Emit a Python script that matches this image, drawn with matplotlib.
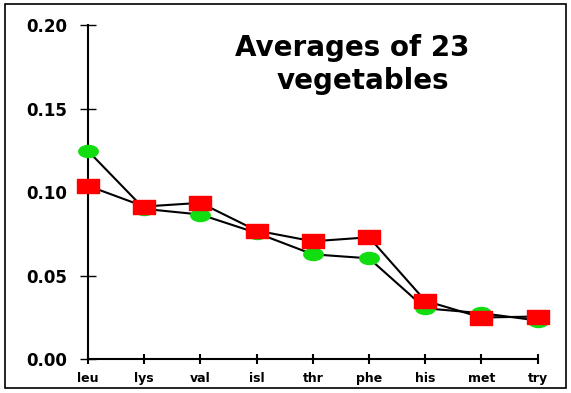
import numpy as np
import matplotlib
matplotlib.use('Agg')
import matplotlib.pyplot as plt
from matplotlib.path import Path
from matplotlib.patches import Rectangle

# amino acids along the x axis
amino = ['leu', 'lys', 'val', 'isl', 'thr', 'phe', 'his', 'met', 'try']
green_vals = [0.1247, 0.0900, 0.0866, 0.0756, 0.0628, 0.0604, 0.0305, 0.0276, 0.0232]
red_vals = [0.1038, 0.0914, 0.0936, 0.0770, 0.0706, 0.0730, 0.0350, 0.0250, 0.0256]
yticks = [0.00, 0.05, 0.10, 0.15, 0.20]

plt.rcParams['font.family'] = 'DejaVu Sans'
plt.rcParams['font.weight'] = 'bold'

fig = plt.figure(figsize=(5.71, 3.93), dpi=100)
ax = fig.add_axes([88/571, 1 - 359.3/393, 449.7/571, 334.3/393])

# wide markers (picture is stretched sideways)
circ = Path.unit_circle()
ellipse = Path(circ.vertices * np.array([1.0, 0.62]), circ.codes)
rect = Path([(-1, -0.66), (1, -0.66), (1, 0.66), (-1, 0.66), (-1, -0.66)],
            [Path.MOVETO, Path.LINETO, Path.LINETO, Path.LINETO, Path.CLOSEPOLY])

x = np.arange(len(amino))
ax.plot(x, green_vals, color='black', lw=1.5, marker=ellipse, ms=14,
        mfc='#11dd11', mec='#11dd11', clip_on=False, zorder=3)
ax.plot(x, red_vals, color='black', lw=1.5, marker=rect, ms=15.5,
        mfc='#ff0000', mec='#ff0000', clip_on=False, zorder=4)

ax.set_xlim(0, 8)
ax.set_ylim(0, 0.20)
ax.set_xticks(x)
ax.set_xticklabels(amino, fontsize=9, fontweight='bold')
ax.set_yticks(yticks)
ax.set_yticklabels([f'{v:.2f}' for v in yticks], fontsize=12, fontweight='bold')

for s in ['top', 'right']:
    ax.spines[s].set_visible(False)
ax.spines['left'].set_linewidth(1.5)
ax.spines['bottom'].set_linewidth(1.5)
ax.spines['bottom'].set_bounds(0, 8)
ax.tick_params(axis='y', direction='inout', length=12, width=1, pad=9)
ax.tick_params(axis='x', direction='inout', length=7, width=1.5, pad=6)
ax.patch.set_visible(False)

fig.text(352/571, 1 - 56/393, 'Averages of 23', ha='center', va='baseline',
         fontsize=20, fontweight='bold')
fig.text(363/571, 1 - 89/393, 'vegetables', ha='center', va='baseline',
         fontsize=20, fontweight='bold')

# outer frame
fig.patches.append(Rectangle((5/571, 1 - 388/393), 561/571, 384/393,
                             transform=fig.transFigure, fill=False,
                             edgecolor='black', lw=1.2))

fig.savefig('out.png', dpi=100)
